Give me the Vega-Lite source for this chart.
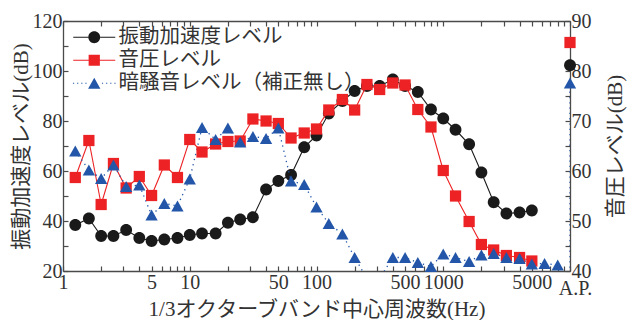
{
  "$schema": "https://vega.github.io/schema/vega-lite/v6.json",
  "width": 507,
  "height": 250,
  "autosize": "none",
  "padding": {"left": 63, "top": 21, "right": 60, "bottom": 49},
  "config": {
    "view": {"stroke": null},
    "font": "Liberation Serif, Noto Sans CJK JP",
    "axis": {
      "grid": false,
      "domainColor": "#4a4a4a",
      "domainWidth": 1.3,
      "tickColor": "#4a4a4a",
      "tickWidth": 1.2,
      "tickSize": -5,
      "labelPadding": 6,
      "labelFont": "Liberation Serif",
      "labelFontSize": 20,
      "labelColor": "#333333",
      "titleFont": "Liberation Serif, Noto Sans CJK JP",
      "titleFontSize": 21,
      "titleFontWeight": "normal",
      "titleColor": "#333333"
    }
  },
  "data": {
    "values": [
      {"s": "v", "f": 1.25, "y": 38.4},
      {"s": "v", "f": 1.6, "y": 41},
      {"s": "v", "f": 2, "y": 34},
      {"s": "v", "f": 2.5, "y": 34},
      {"s": "v", "f": 3.15, "y": 36.4},
      {"s": "v", "f": 4, "y": 33.2},
      {"s": "v", "f": 5, "y": 32},
      {"s": "v", "f": 6.3, "y": 32.6},
      {"s": "v", "f": 8, "y": 33.2},
      {"s": "v", "f": 10, "y": 34.4},
      {"s": "v", "f": 12.5, "y": 35},
      {"s": "v", "f": 16, "y": 35},
      {"s": "v", "f": 20, "y": 39.3},
      {"s": "v", "f": 25, "y": 40.6},
      {"s": "v", "f": 31.5, "y": 41.5},
      {"s": "v", "f": 40, "y": 52.6},
      {"s": "v", "f": 50, "y": 56},
      {"s": "v", "f": 63, "y": 58.4},
      {"s": "v", "f": 80, "y": 69.5},
      {"s": "v", "f": 100, "y": 74.2},
      {"s": "v", "f": 125, "y": 83},
      {"s": "v", "f": 160, "y": 88},
      {"s": "v", "f": 200, "y": 92},
      {"s": "v", "f": 250, "y": 94},
      {"s": "v", "f": 315, "y": 94},
      {"s": "v", "f": 400, "y": 96.6},
      {"s": "v", "f": 500, "y": 94},
      {"s": "v", "f": 630, "y": 91.6},
      {"s": "v", "f": 800, "y": 84.6},
      {"s": "v", "f": 1000, "y": 81},
      {"s": "v", "f": 1250, "y": 76.5},
      {"s": "v", "f": 1600, "y": 70.7},
      {"s": "v", "f": 2000, "y": 59.4},
      {"s": "v", "f": 2500, "y": 47.5},
      {"s": "v", "f": 3150, "y": 43},
      {"s": "v", "f": 4000, "y": 43.4},
      {"s": "v", "f": 5000, "y": 44.2},
      {"s": "v", "f": 10000, "y": 102.3, "ap": 1},
      {"s": "p", "f": 1.25, "y": 58.7},
      {"s": "p", "f": 1.6, "y": 66.1},
      {"s": "p", "f": 2, "y": 53.3},
      {"s": "p", "f": 2.5, "y": 61.5},
      {"s": "p", "f": 3.15, "y": 56.6},
      {"s": "p", "f": 4, "y": 58.9},
      {"s": "p", "f": 5, "y": 55.1},
      {"s": "p", "f": 6.3, "y": 61.2},
      {"s": "p", "f": 8, "y": 58.7},
      {"s": "p", "f": 10, "y": 66.3},
      {"s": "p", "f": 12.5, "y": 63.8},
      {"s": "p", "f": 16, "y": 65.4},
      {"s": "p", "f": 20, "y": 65.9},
      {"s": "p", "f": 25, "y": 66},
      {"s": "p", "f": 31.5, "y": 70.4},
      {"s": "p", "f": 40, "y": 70},
      {"s": "p", "f": 50, "y": 69.5},
      {"s": "p", "f": 63, "y": 66.6},
      {"s": "p", "f": 80, "y": 67.6},
      {"s": "p", "f": 100, "y": 68.4},
      {"s": "p", "f": 125, "y": 72.2},
      {"s": "p", "f": 160, "y": 74.3},
      {"s": "p", "f": 200, "y": 72.2},
      {"s": "p", "f": 250, "y": 77.3},
      {"s": "p", "f": 315, "y": 76.3},
      {"s": "p", "f": 400, "y": 77.6},
      {"s": "p", "f": 500, "y": 77.2},
      {"s": "p", "f": 630, "y": 72.3},
      {"s": "p", "f": 800, "y": 68.8},
      {"s": "p", "f": 1000, "y": 60.1},
      {"s": "p", "f": 1250, "y": 55},
      {"s": "p", "f": 1600, "y": 49.9},
      {"s": "p", "f": 2000, "y": 45.3},
      {"s": "p", "f": 2500, "y": 44.2},
      {"s": "p", "f": 3150, "y": 43.1},
      {"s": "p", "f": 4000, "y": 42.7},
      {"s": "p", "f": 5000, "y": 42},
      {"s": "p", "f": 10000, "y": 85.7, "ap": 1},
      {"s": "b", "o": 1, "f": 1.25, "y": 64},
      {"s": "b", "o": 2, "f": 1.6, "y": 60.2},
      {"s": "b", "o": 3, "f": 2, "y": 58.5},
      {"s": "b", "o": 4, "f": 2.5, "y": 61.2},
      {"s": "b", "o": 5, "f": 3.15, "y": 56.9},
      {"s": "b", "o": 6, "f": 4, "y": 57.2},
      {"s": "b", "o": 7, "f": 5, "y": 51.2},
      {"s": "b", "o": 8, "f": 6.3, "y": 53.5},
      {"s": "b", "o": 9, "f": 8, "y": 53},
      {"s": "b", "o": 10, "f": 10, "y": 58.4},
      {"s": "b", "o": 11, "f": 12.5, "y": 68.7},
      {"s": "b", "o": 12, "f": 16, "y": 66.3},
      {"s": "b", "o": 13, "f": 20, "y": 68.6},
      {"s": "b", "o": 14, "f": 25, "y": 65.8},
      {"s": "b", "o": 15, "f": 31.5, "y": 66.9},
      {"s": "b", "o": 16, "f": 40, "y": 66.5},
      {"s": "b", "o": 17, "f": 50, "y": 68.6},
      {"s": "b", "o": 18, "f": 63, "y": 58},
      {"s": "b", "o": 19, "f": 80, "y": 57.3},
      {"s": "b", "o": 20, "f": 100, "y": 52.8},
      {"s": "b", "o": 21, "f": 125, "y": 49.5},
      {"s": "b", "o": 22, "f": 160, "y": 47.4},
      {"s": "b", "o": 23, "f": 200, "y": 42.7},
      {"s": "b", "o": 24, "f": 250, "y": 38.5},
      {"s": "b", "o": 25, "f": 315, "y": 38.5},
      {"s": "b", "o": 26, "f": 400, "y": 42.7},
      {"s": "b", "o": 27, "f": 500, "y": 42.7},
      {"s": "b", "o": 28, "f": 630, "y": 41.7},
      {"s": "b", "o": 29, "f": 800, "y": 40.9},
      {"s": "b", "o": 30, "f": 1000, "y": 43.4},
      {"s": "b", "o": 31, "f": 1250, "y": 42.7},
      {"s": "b", "o": 32, "f": 1600, "y": 41.9},
      {"s": "b", "o": 33, "f": 2000, "y": 43.2},
      {"s": "b", "o": 34, "f": 2500, "y": 43.5},
      {"s": "b", "o": 35, "f": 3150, "y": 42.7},
      {"s": "b", "o": 36, "f": 4000, "y": 42.5},
      {"s": "b", "o": 37, "f": 5000, "y": 41.4},
      {"s": "b", "o": 38, "f": 6300, "y": 41.5},
      {"s": "b", "o": 39, "f": 8000, "y": 41.2},
      {"s": "b", "o": 40, "f": 10000, "y": 35},
      {"s": "b", "o": 41, "f": 10000, "y": 77.6, "ap": 1}
    ]
  },
  "layer": [
    {
      "encoding": {
        "x": {
          "field": "f", "type": "quantitative",
          "scale": {"type": "log", "domain": [1, 10000], "nice": false},
          "axis": {
            "orient": "bottom",
            "values": [1,2,3,4,5,6,7,8,9,10,20,30,40,50,60,70,80,90,100,200,300,400,500,600,700,800,900,1000,2000,3000,4000,5000,6000,7000,8000,9000,10000],
            "labelExpr": "datum.value == 10000 ? 'A.P.' : (indexof([1,5,10,50,100,500,1000,5000], datum.value) >= 0 ? '' + datum.value : '')",
            "labelOverlap": false,
            "labelFlush": false,
            "labelBound": false,
            "labelPadding": {"condition": {"test": "datum.value == 10000", "value": 12}, "value": 6},
            "labelOffset": {"condition": {"test": "datum.value == 10000", "value": 5}, "value": 0},
            "title": "1/3オクターブバンド中心周波数(Hz)",
            "titlePadding": 0
          }
        },
        "y": {
          "field": "y", "type": "quantitative",
          "scale": {"domain": [20, 120], "nice": false, "zero": false},
          "axis": {
            "orient": "left",
            "values": [20,30,40,50,60,70,80,90,100,110,120],
            "labelExpr": "datum.value % 20 == 0 ? '' + datum.value : ''",
            "labelOverlap": false,
            "labelFlush": false,
            "title": "振動加速度レベル(dB)",
            "titlePadding": 1
          }
        }
      },
      "layer": [
        {
          "transform": [{"filter": "datum.s == 'v' && !datum.ap"}],
          "mark": {"type": "line", "color": "#1a1a1a", "strokeWidth": 1.1, "clip": true}
        },
        {
          "transform": [{"filter": "datum.s == 'v'"}],
          "mark": {"type": "point", "filled": true, "opacity": 1, "size": 140, "color": "#1a1a1a", "shape": "M-1,0A1,1,0,1,0,1,0A1,1,0,1,0,-1,0Z"}
        }
      ]
    },
    {
      "encoding": {
        "x": {
          "field": "f", "type": "quantitative",
          "scale": {"type": "log", "domain": [1, 10000], "nice": false},
          "axis": {
            "orient": "top",
            "values": [1,2,3,4,5,6,7,8,9,10,20,30,40,50,60,70,80,90,100,200,300,400,500,600,700,800,900,1000,2000,3000,4000,5000,6000,7000,8000,9000,10000],
            "labels": false,
            "title": null
          }
        },
        "y": {
          "field": "y", "type": "quantitative",
          "scale": {"domain": [40, 90], "nice": false, "zero": false},
          "axis": {
            "orient": "right",
            "values": [40,45,50,55,60,65,70,75,80,85,90],
            "labelExpr": "datum.value % 10 == 0 ? '' + datum.value : ''",
            "labelOverlap": false,
            "labelFlush": false,
            "title": "音圧レベル(dB)",
            "titleAngle": 270,
            "titlePadding": 34
          }
        }
      },
      "layer": [
        {
          "transform": [{"filter": "datum.s == 'p' && !datum.ap"}],
          "mark": {"type": "line", "color": "#ed2224", "strokeWidth": 1.1, "clip": true}
        },
        {
          "transform": [{"filter": "datum.s == 'b'"}],
          "mark": {"type": "line", "color": "#2356a8", "strokeWidth": 1.3, "strokeDash": [1.3, 4], "clip": true},
          "encoding": {"order": {"field": "o", "type": "quantitative"}}
        },
        {
          "transform": [{"filter": "datum.s == 'p'"}],
          "mark": {"type": "point", "filled": true, "opacity": 1, "size": 140, "color": "#ed2224", "shape": "M-0.95,-0.95H0.95V0.95H-0.95Z"}
        },
        {
          "transform": [{"filter": "datum.s == 'b' && datum.y >= 40"}],
          "mark": {"type": "point", "filled": true, "opacity": 1, "size": 140, "color": "#2356a8", "shape": "M0,-0.93L1.04,0.93H-1.04Z"}
        },
        {
          "transform": [{"filter": "false"}],
          "mark": {"type": "point", "filled": true, "opacity": 1, "size": 140},
          "encoding": {
            "color": {
              "field": "s", "type": "nominal",
              "scale": {"domain": ["v", "p", "b"], "range": ["#1a1a1a", "#ed2224", "#2356a8"]},
              "legend": {
                "orient": "none", "legendX": 21, "legendY": 6, "title": null, "padding": 0,
                "labelExpr": "datum.value == 'v' ? '振動加速度レベル' : datum.value == 'p' ? '音圧レベル' : '暗騒音レベル（補正無し）'",
                "labelFont": "Noto Sans CJK JP", "labelFontSize": 20.5, "labelColor": "#333333", "labelLimit": 0,
                "symbolSize": 140, "symbolOpacity": 1, "symbolStrokeWidth": 0, "labelOffset": 14, "rowPadding": 2
              }
            },
            "shape": {
              "field": "s", "type": "nominal",
              "scale": {"domain": ["v", "p", "b"], "range": [
                "M-3.55,-0.09H-0.99V0.09H-3.55ZM0.99,-0.09H3.55V0.09H0.99ZM-1,0A1,1,0,1,0,1,0A1,1,0,1,0,-1,0Z",
                "M-3.55,-0.09H-0.95V0.09H-3.55ZM0.95,-0.09H3.55V0.09H0.95ZM-0.95,-0.95H0.95V0.95H-0.95Z",
                "M-3.6,-0.1h0.2v0.2h-0.2zM-2.9,-0.1h0.2v0.2h-0.2zM-2.2,-0.1h0.2v0.2h-0.2zM-1.5,-0.1h0.2v0.2h-0.2zM1.3,-0.1h0.2v0.2h-0.2zM2,-0.1h0.2v0.2h-0.2zM2.7,-0.1h0.2v0.2h-0.2zM3.4,-0.1h0.2v0.2h-0.2zM0,-0.93L1.04,0.93H-1.04Z"
              ]},
              "legend": {
                "orient": "none", "legendX": 21, "legendY": 6, "title": null, "padding": 0,
                "labelExpr": "datum.value == 'v' ? '振動加速度レベル' : datum.value == 'p' ? '音圧レベル' : '暗騒音レベル（補正無し）'",
                "labelFont": "Noto Sans CJK JP", "labelFontSize": 20.5, "labelColor": "#333333", "labelLimit": 0,
                "symbolSize": 140, "symbolOpacity": 1, "symbolStrokeWidth": 0, "labelOffset": 14, "rowPadding": 2
              }
            }
          }
        }
      ]
    }
  ],
  "resolve": {
    "scale": {"y": "independent"},
    "axis": {"x": "independent", "y": "independent"}
  }
}
